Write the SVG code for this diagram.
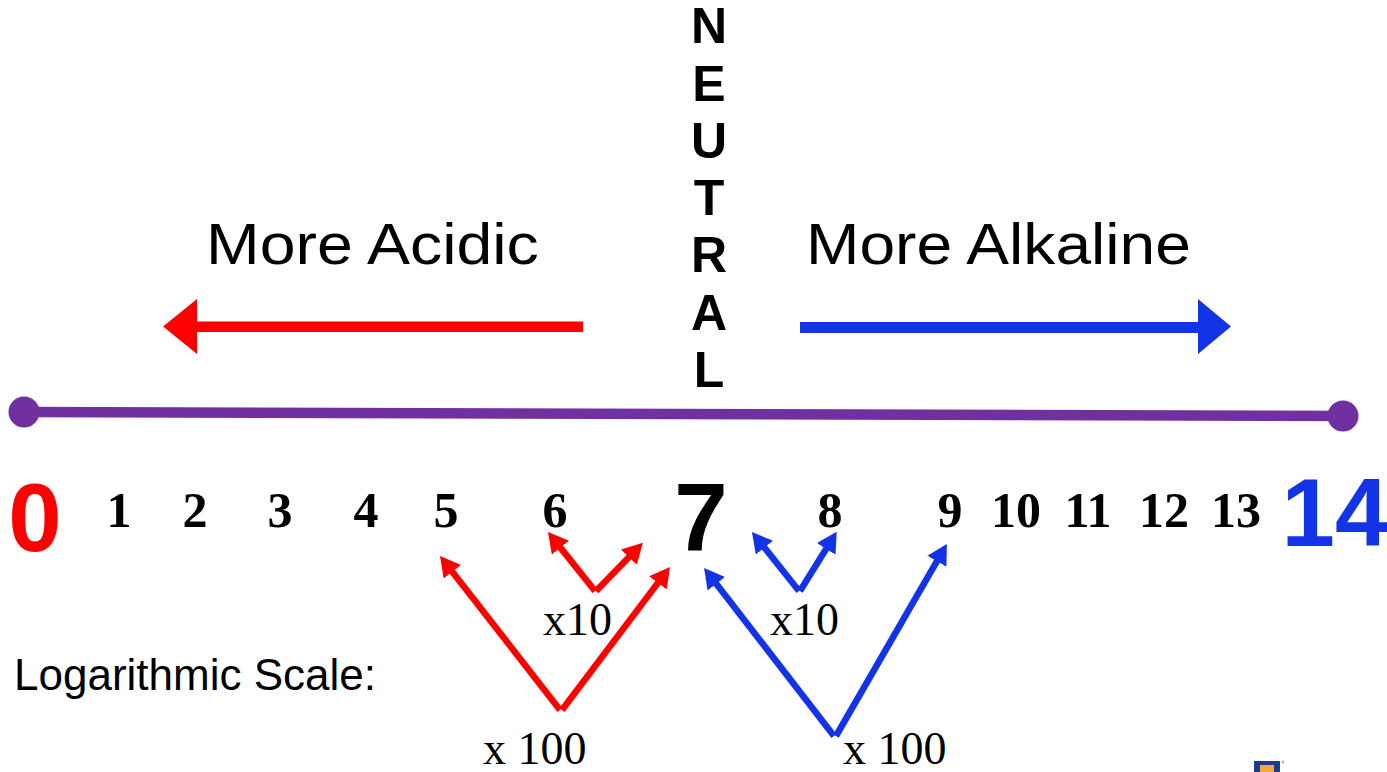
<svg xmlns="http://www.w3.org/2000/svg" width="1387" height="772" viewBox="0 0 1387 772">
<style>
.sans{font-family:"Liberation Sans",Arial,sans-serif;}
.serif{font-family:"Liberation Serif","Times New Roman",serif;}
.num{font-family:"Liberation Serif","Times New Roman",serif;font-weight:bold;font-size:50px;fill:#000;text-anchor:middle;}
.big{font-family:"Liberation Sans",Arial,sans-serif;font-weight:bold;font-size:96px;text-anchor:middle;}
.neu{font-family:"Liberation Sans",Arial,sans-serif;font-weight:bold;font-size:50px;fill:#000;text-anchor:middle;}
.lbl{font-family:"Liberation Serif","Times New Roman",serif;font-size:46px;fill:#000;}
.r{stroke:#FF0000;stroke-width:6.5;fill:none;}
.b{stroke:#1234E6;stroke-width:6.5;fill:none;}
</style>
<defs>
<marker id="hr" viewBox="0 0 20 22" markerWidth="20" markerHeight="22" refX="1" refY="11" orient="auto" markerUnits="userSpaceOnUse"><path d="M0,0 L20,11 L0,22 z" fill="#FF0000"/></marker>
<marker id="hb" viewBox="0 0 20 22" markerWidth="20" markerHeight="22" refX="1" refY="11" orient="auto" markerUnits="userSpaceOnUse"><path d="M0,0 L20,11 L0,22 z" fill="#1234E6"/></marker>
</defs>
<rect width="1387" height="772" fill="#fff"/>

<g id="neutral">
<text class="neu" x="709" y="43">N</text>
<text class="neu" x="709" y="100.5">E</text>
<text class="neu" x="709" y="158">U</text>
<text class="neu" x="709" y="215">T</text>
<text class="neu" x="709" y="272">R</text>
<text class="neu" x="709" y="329.5">A</text>
<text class="neu" x="709" y="387">L</text>
</g>

<g id="acidic">
<text class="sans" font-size="57" transform="translate(206,264) scale(1.13,1)">More Acidic</text>
<polygon points="583,321.5 197,321.5 197,299 163,326.5 197,354 197,332 583,332" fill="#FF0000"/>
</g>

<g id="alkaline">
<text class="sans" font-size="57" transform="translate(806,264) scale(1.125,1)">More Alkaline</text>
<polygon points="800,322 1198,322 1198,299 1231,326.5 1198,354 1198,333 800,333" fill="#1234E6"/>
</g>

<g id="scale-line">
<line x1="24" y1="412" x2="1343" y2="416" stroke="#7030A0" stroke-width="10.5"/>
<circle cx="24" cy="412" r="15.5" fill="#7030A0"/>
<circle cx="1343" cy="416" r="15.5" fill="#7030A0"/>
</g>

<g id="numbers">
<text class="big" x="35" y="551" fill="#FF0000">0</text>
<text class="num" x="119" y="527">1</text>
<text class="num" x="195" y="527">2</text>
<text class="num" x="280" y="527">3</text>
<text class="num" x="366" y="527">4</text>
<text class="num" x="446" y="527">5</text>
<text class="num" x="555" y="527">6</text>
<text class="big" x="701" y="551" fill="#000">7</text>
<text class="num" x="830" y="527">8</text>
<text class="num" x="950" y="527">9</text>
<text class="num" x="1016" y="527">10</text>
<text class="num" x="1088" y="527">11</text>
<text class="num" x="1164" y="527">12</text>
<text class="num" x="1236" y="527">13</text>
<text class="big" x="1335" y="546" fill="#1234E6">14</text>
</g>

<g id="log-label">
<text class="sans" x="14" y="690" font-size="44">Logarithmic Scale:</text>
</g>

<g id="connectors">
<line class="r" x1="560" y1="710" x2="451.7" y2="571" marker-end="url(#hr)"/>
<line class="r" x1="562" y1="710" x2="658.5" y2="582.1" marker-end="url(#hr)"/>
<line class="r" x1="595" y1="591" x2="559.8" y2="546.9" marker-end="url(#hr)"/>
<line class="r" x1="596" y1="591" x2="629.6" y2="556.4" marker-end="url(#hr)"/>
<line class="b" x1="834" y1="736" x2="715.7" y2="583" marker-end="url(#hb)"/>
<line class="b" x1="836" y1="736" x2="937.4" y2="560.4" marker-end="url(#hb)"/>
<line class="b" x1="799" y1="591" x2="763.8" y2="546.9" marker-end="url(#hb)"/>
<line class="b" x1="800" y1="591" x2="826.7" y2="548" marker-end="url(#hb)"/>
</g>

<g id="factor-labels">
<text class="lbl" x="543" y="635">x10</text>
<text class="lbl" x="770" y="635">x10</text>
<text class="lbl" x="483" y="764">x 100</text>
<text class="lbl" x="843" y="764">x 100</text>
</g>

<g id="logo">
<rect x="1254" y="761" width="26" height="11" fill="#1A3E8C"/>
<rect x="1260" y="765" width="14" height="7" fill="#F2A93B"/>
<circle cx="1283" cy="762" r="1.5" fill="#bbb"/>
</g>
</svg>
